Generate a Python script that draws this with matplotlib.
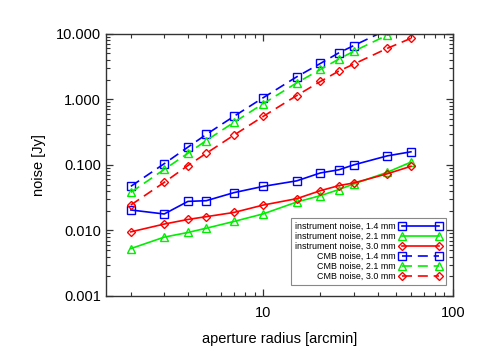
import matplotlib
matplotlib.use("Agg")
import matplotlib.pyplot as plt
from matplotlib.ticker import LogLocator, NullFormatter, FormatStrFormatter, FixedLocator, FixedFormatter

plt.rcParams["font.family"] = ["Liberation Sans", "DejaVu Sans"]

radius = [2, 3, 4, 5, 7, 10, 15, 20, 25, 30, 45, 60]

inst_14 = [0.0205, 0.0178, 0.0277, 0.0284, 0.0377, 0.047, 0.057, 0.0753, 0.084, 0.100, 0.137, 0.158]
inst_21 = [0.00528, 0.0079, 0.0093, 0.0108, 0.0137, 0.0179, 0.0271, 0.0339, 0.0419, 0.0512, 0.077, 0.110]
inst_30 = [0.0095, 0.0125, 0.0147, 0.0162, 0.0188, 0.0244, 0.0305, 0.0404, 0.0482, 0.053, 0.073, 0.095]
cmb_14 = [0.047, 0.104, 0.186, 0.291, 0.55, 1.06, 2.2, 3.52, 5.1, 6.6, 11.5, 17.0]
cmb_21 = [0.038, 0.085, 0.15, 0.235, 0.445, 0.86, 1.78, 2.85, 4.1, 5.4, 9.5, 14.3]
cmb_30 = [0.0244, 0.054, 0.0975, 0.15, 0.284, 0.55, 1.14, 1.87, 2.69, 3.44, 5.97, 8.5]

series = [
    ("instrument noise, 1.4 mm", inst_14, "#0000ff", "s", "-"),
    ("instrument noise, 2.1 mm", inst_21, "#00ee00", "^", "-"),
    ("instrument noise, 3.0 mm", inst_30, "#ff0000", "D", "-"),
    ("CMB noise, 1.4 mm", cmb_14, "#0000ff", "s", "--"),
    ("CMB noise, 2.1 mm", cmb_21, "#00ee00", "^", "--"),
    ("CMB noise, 3.0 mm", cmb_30, "#ff0000", "D", "--"),
]

fig = plt.figure(figsize=(4.85, 3.63), dpi=100)
ax = fig.add_axes([0.2186, 0.1846, 0.7154, 0.7226])

for label, vals, color, marker, ls in series:
    ms = 4.0 if marker == "D" else 5.2
    kw = dict(dashes=(6, 3.5)) if ls == "--" else {}
    ax.plot(radius, vals, color=color, linestyle=ls, lw=1.2, marker=marker,
            markersize=ms, markerfacecolor="none", markeredgecolor=color,
            markeredgewidth=1.0, label=label, **kw)

ax.set_xscale("log")
ax.set_yscale("log")
ax.set_xlim(1.48, 100)
ax.set_ylim(0.001, 10)

ax.xaxis.set_major_locator(FixedLocator([10, 100]))
ax.xaxis.set_major_formatter(FixedFormatter(["10", "100"]))
ax.xaxis.set_minor_locator(LogLocator(base=10, subs=range(2, 10), numticks=20))
ax.xaxis.set_minor_formatter(NullFormatter())
ax.yaxis.set_major_locator(LogLocator(base=10, numticks=10))
ax.yaxis.set_major_formatter(FormatStrFormatter("%.3f"))
ax.yaxis.set_minor_locator(LogLocator(base=10, subs=range(2, 10), numticks=20))
ax.yaxis.set_minor_formatter(NullFormatter())

ax.tick_params(which="both", direction="in", top=True, right=True, colors="#333333",
               labelcolor="black", labelsize=10.5)
ax.tick_params(which="major", length=5, width=0.9)
ax.tick_params(which="minor", length=2.8, width=0.8)
ax.tick_params(axis="x", which="major", pad=7)
for sp in ax.spines.values():
    sp.set_color("#333333")
    sp.set_linewidth(1.0)

ax.set_xlabel("aperture radius [arcmin]", fontsize=10.5, labelpad=9)
ax.set_ylabel("noise [Jy]", fontsize=10.5, labelpad=7)

leg = ax.legend(loc="lower right", bbox_to_anchor=(0.98, 0.042), fontsize=6.4,
                markerfirst=False, numpoints=2, handlelength=4.8, handletextpad=0.45,
                labelspacing=0.12, borderpad=0.45, borderaxespad=0, fancybox=False,
                framealpha=1)
leg.get_frame().set_edgecolor("#888888")
leg.get_frame().set_linewidth(0.8)

fig.savefig("out.png", dpi=100)
